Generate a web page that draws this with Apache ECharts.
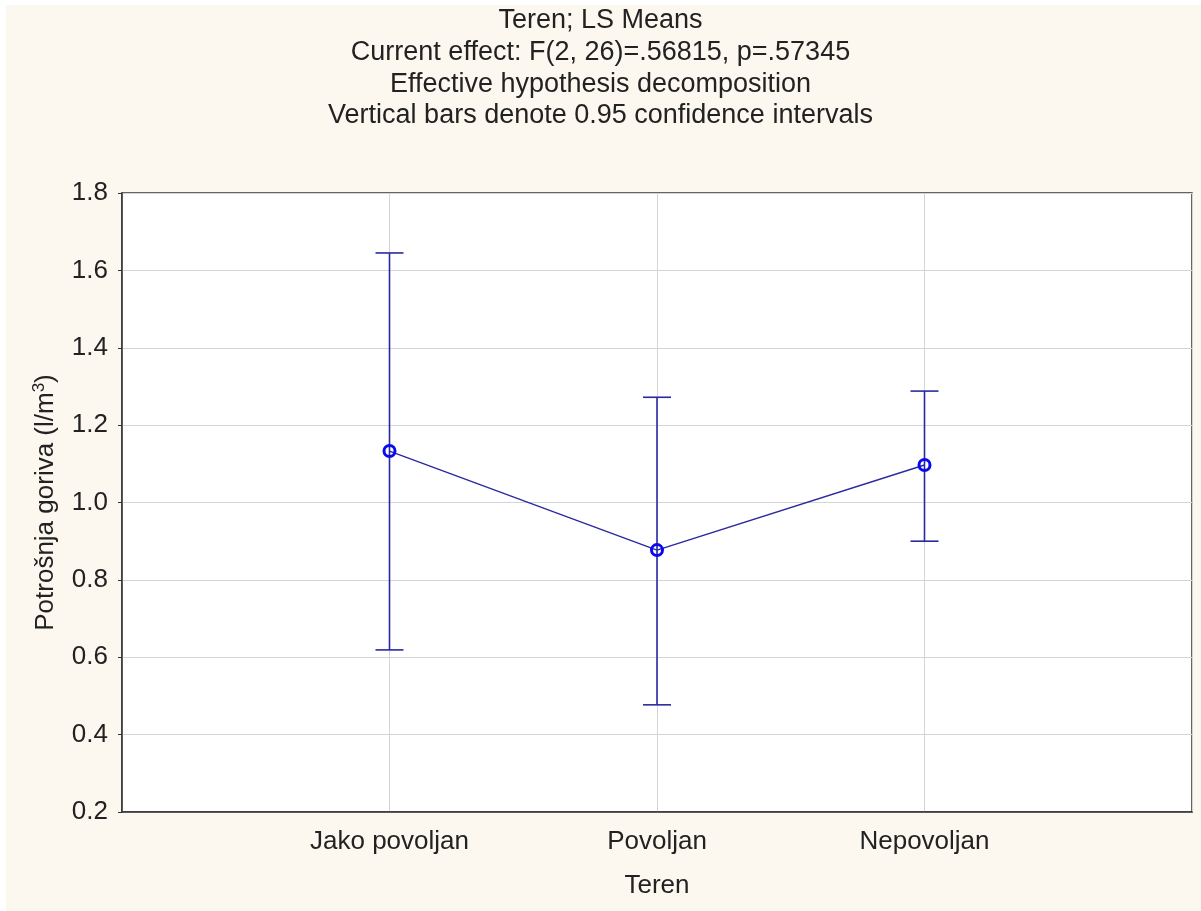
<!DOCTYPE html>
<html><head><meta charset="utf-8">
<script src="https://cdn.jsdelivr.net/npm/echarts@6/dist/echarts.min.js"></script>
<style>html,body{margin:0;padding:0;background:#fff;}
#c{position:absolute;left:0;top:0;width:1201px;height:911px;background:#fcf8ef;}
#wt{position:absolute;left:0;top:0;width:1201px;height:5px;background:#fff;pointer-events:none;}
#wl{position:absolute;left:0;top:0;width:6px;height:911px;background:#fff;pointer-events:none;}</style>
</head><body><div id="c"></div><div id="wt"></div><div id="wl"></div>
<script>
const categories = ['Jako povoljan', 'Povoljan', 'Nepovoljan'];
const means = [1.133, 0.877, 1.097];
const lower = [0.619, 0.477, 0.900];
const upper = [1.645, 1.272, 1.288];
const yTicks = [0.2, 0.4, 0.6, 0.8, 1.0, 1.2, 1.4, 1.6, 1.8];
const titleLines = ['Teren; LS Means', 'Current effect: F(2, 26)=.56815, p=.57345', 'Effective hypothesis decomposition', 'Vertical bars denote 0.95 confidence intervals'];

const chart = echarts.init(document.getElementById('c'), null, {renderer: 'canvas'});
const FONT = '"Liberation Sans", Arial, sans-serif';
const lineColor = '#2a2aa0';
const pts = categories.map((c, i) => [i + 1, means[i]]);
const bars = categories.map((c, i) => [i + 1, lower[i], upper[i]]);

chart.setOption({
  backgroundColor: 'transparent',
  animation: false,
  title: {
    text: titleLines.join('\n'),
    left: 'center', top: 0,
    textStyle: {fontFamily: FONT, fontSize: 27, fontWeight: 'normal', color: '#222', lineHeight: 31.7}
  },
  grid: {left: 122, right: 9, top: 193, bottom: 99, show: true, borderColor: '#333', borderWidth: 1.5, backgroundColor: '#fff'},
  xAxis: {
    type: 'value', min: 0, max: 4, interval: 1,
    name: 'Teren', nameLocation: 'middle', nameGap: 61,
    nameTextStyle: {fontFamily: FONT, fontSize: 26, color: '#222'},
    axisLine: {show: true, lineStyle: {color: '#333', width: 1.5}},
    axisTick: {show: false},
    axisLabel: {fontFamily: FONT, fontSize: 26, color: '#222', margin: 17,
      formatter: v => (v >= 1 && v <= categories.length) ? categories[v - 1] : ''},
    splitLine: {show: true, lineStyle: {color: '#d4d4d4', width: 1}}
  },
  yAxis: {
    type: 'value', min: 0.2, max: 1.8, interval: 0.2,
    name: 'Potrošnja goriva (l/m{sup|3})', nameLocation: 'middle', nameGap: 62,
    nameTextStyle: {fontFamily: FONT, fontSize: 26, color: '#222',
      rich: {sup: {fontFamily: FONT, fontSize: 17, color: '#222', verticalAlign: 'top', padding: [0, 0, 12, 0]}}},
    axisLine: {show: true, lineStyle: {color: '#333', width: 1.5}},
    axisTick: {show: true, length: 4, lineStyle: {color: '#333'}},
    axisLabel: {fontFamily: FONT, fontSize: 26, color: '#222', margin: 14,
      formatter: v => { const t = yTicks.find(x => Math.abs(x - v) < 1e-6); return t === undefined ? '' : t.toFixed(1); }},
    splitLine: {show: true, lineStyle: {color: '#d4d4d4', width: 1}}
  },
  series: [
    {
      type: 'custom', data: bars, z: 2,
      renderItem: (params, api) => {
        const x = api.value(0);
        const lo = api.coord([x, api.value(1)]);
        const hi = api.coord([x, api.value(2)]);
        const hw = 14;
        const st = {stroke: lineColor, lineWidth: 1.6};
        return {type: 'group', children: [
          {type: 'line', shape: {x1: lo[0], y1: lo[1], x2: hi[0], y2: hi[1]}, style: st},
          {type: 'line', shape: {x1: lo[0] - hw, y1: lo[1], x2: lo[0] + hw, y2: lo[1]}, style: st},
          {type: 'line', shape: {x1: hi[0] - hw, y1: hi[1], x2: hi[0] + hw, y2: hi[1]}, style: st}
        ]};
      }
    },
    {
      type: 'line', data: pts, z: 3,
      lineStyle: {color: lineColor, width: 1.4},
      symbol: 'circle', symbolSize: 11,
      itemStyle: {color: 'rgba(255,255,255,0)', borderColor: '#0a0af0', borderWidth: 3}
    }
  ]
});
</script></body></html>
